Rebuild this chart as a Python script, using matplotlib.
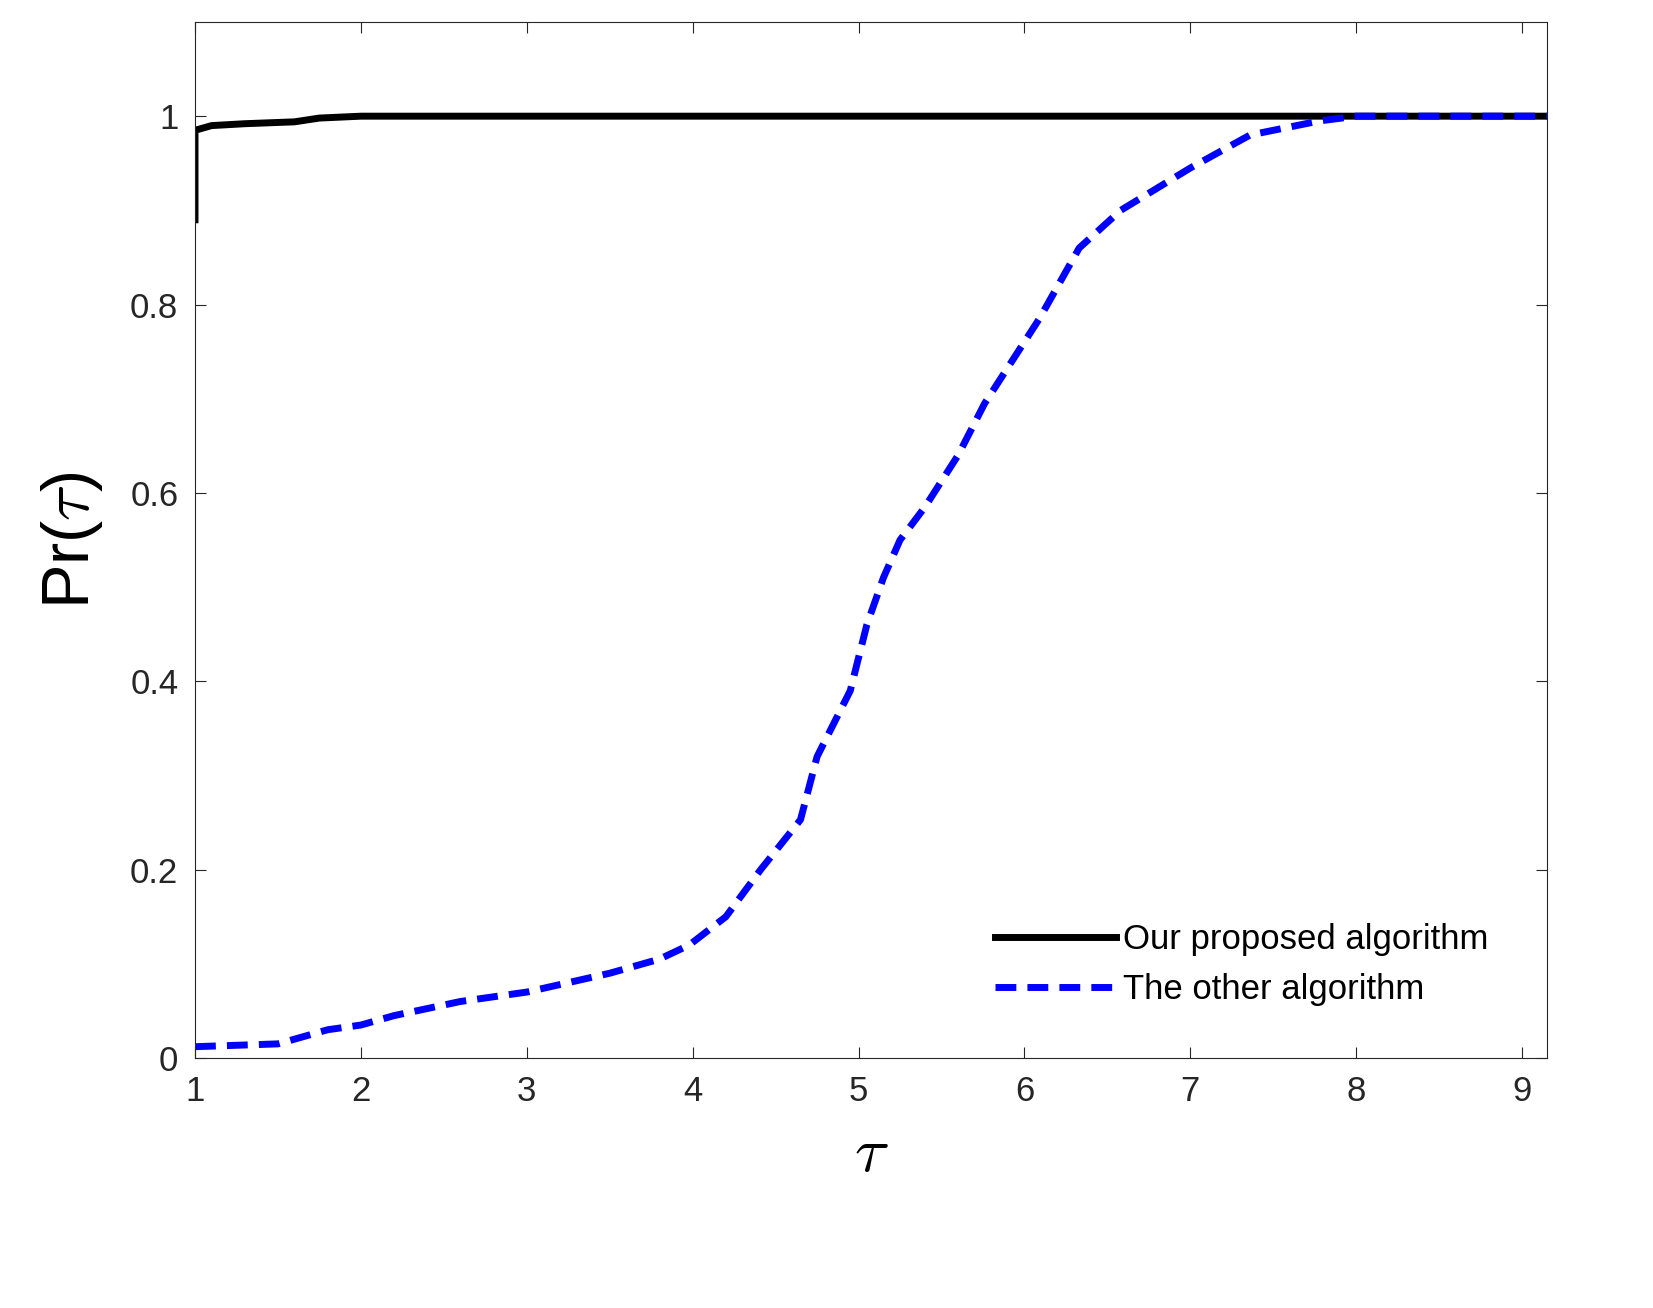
import matplotlib
matplotlib.use("Agg")
import matplotlib.pyplot as plt

tau_ours = [1.0, 1.0, 1.1, 1.3, 1.6, 1.75, 2.0, 2.6, 9.15]
pr_ours = [0.89, 0.985, 0.99, 0.992, 0.994, 0.998, 1.0, 1.0, 1.0]

tau_other = [1.0, 1.5, 1.8, 2.0, 2.2, 2.6, 3.0, 3.5, 3.8, 3.98, 4.2, 4.41, 4.65, 4.75, 4.95, 5.05,
             5.15, 5.25, 5.4, 5.6, 5.76, 6.09, 6.33, 6.58, 7.0, 7.36, 7.78, 8.0, 9.15]
pr_other = [0.012, 0.015, 0.03, 0.035, 0.045, 0.06, 0.07, 0.09, 0.105, 0.12, 0.15, 0.2, 0.253,
            0.32, 0.39, 0.46, 0.51, 0.55, 0.585, 0.64, 0.695, 0.785, 0.86, 0.9, 0.945, 0.98, 0.995, 1.0, 1.0]

plt.rcParams['font.family'] = ['Liberation Sans', 'DejaVu Sans']
plt.rcParams['mathtext.fontset'] = 'cm'
fig = plt.figure(figsize=(16.53, 13.08), dpi=100)
ax = fig.add_axes([195/1653, 1-1058/1308, (1547-195)/1653, (1058-22)/1308])
ax.plot(tau_ours, pr_ours, color='black', lw=5, label='Our proposed algorithm')
ax.plot(tau_other, pr_other, color='blue', lw=5, ls=(0, (3, 1.6)), label='The other algorithm')
ax.set_xlim(1, 9.15)
ax.set_ylim(0, 1.1)
ax.set_xticks(range(1, 10))
ax.set_yticks([0, 0.2, 0.4, 0.6, 0.8, 1])
ax.set_yticklabels(['0', '0.2', '0.4', '0.6', '0.8', '1'])
ax.tick_params(direction='in', length=8, labelsize=25, colors='#262626', top=True, right=True, pad=12)
for s in ax.spines.values():
    s.set_color('#262626')
ax.set_xlabel(r'$\tau$', fontsize=46, labelpad=12)
ax.set_ylabel(r'Pr($\tau$)', fontsize=48, labelpad=18)
leg = ax.legend(loc='lower right', fontsize=25, frameon=False, handlelength=3.5,
                handletextpad=0.2, bbox_to_anchor=(0.98, 0.02))
fig.savefig('out.png', dpi=100, facecolor='white')
